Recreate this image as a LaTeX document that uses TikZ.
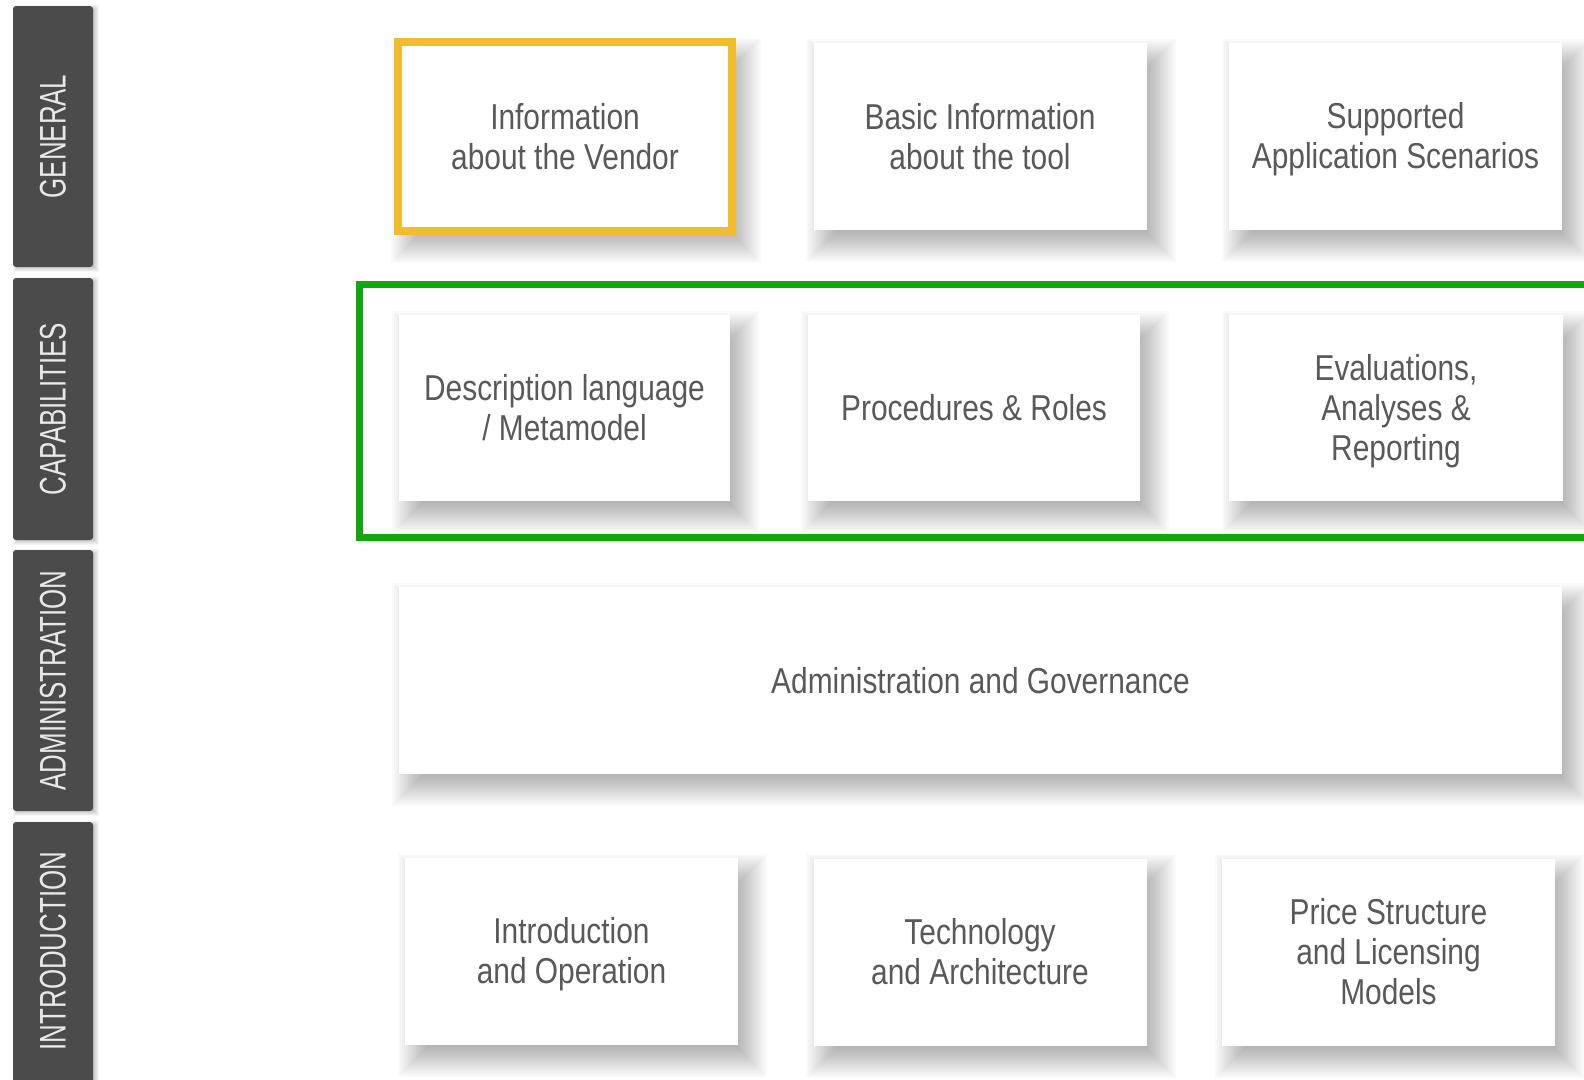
\documentclass[tikz,border=0pt]{standalone}
\usepackage{fontspec}
\newfontfamily\mainf[FakeStretch=0.83]{Liberation Sans}
\newfontfamily\tabf[FakeStretch=0.70]{Liberation Sans}
\definecolor{tabgray}{HTML}{4B4B4B}
\definecolor{txtgray}{HTML}{595959}
\definecolor{tabtxt}{HTML}{E8E8E8}
\definecolor{vyellow}{HTML}{F0BE2C}
\definecolor{cgreen}{HTML}{14A60E}
\pgfdeclarelayer{bgl}
\pgfdeclarelayer{shl}
\pgfsetlayers{bgl,shl,main}
\tikzset{
  card/.style={fill=white, draw=none, inner sep=0pt, align=center, text=txtgray,
    font=\mainf\fontsize{36}{40}\selectfont,
    minimum width=333pt, minimum height=187pt},
  cardtext/.style={text=txtgray, align=center, font=\mainf\fontsize{36}{40}\selectfont, inner sep=0pt},
  tab/.style={fill=tabgray, draw=none, rounded corners=3pt, inner sep=0pt, minimum width=80pt},
  tablabel/.style={text=tabtxt, rotate=90, font=\tabf\fontsize{37}{40}\selectfont, inner sep=0pt}
}
% soft shadow: #1 node, #2 x offset, #3 y offset (down), #4 half spread, #5 step, #6 layer opacity
\newcommand\softshadow[6]{%
  \begin{pgfonlayer}{shl}
  \pgfmathtruncatemacro\sstart{-#4}\pgfmathtruncatemacro\snext{-#4+#5}%
  \foreach \s in {\sstart,\snext,...,#4}{%
    \pgfmathsetmacro\xa{#2-\s}\pgfmathsetmacro\ya{-#3+\s}%
    \pgfmathsetmacro\xb{#2+\s}\pgfmathsetmacro\yb{-#3-\s}%
    \fill[black, opacity=#6] ([xshift=\xa pt, yshift=\ya pt]#1.north west) rectangle ([xshift=\xb pt, yshift=\yb pt]#1.south east);
  }%
  \end{pgfonlayer}}
\begin{document}
\begin{tikzpicture}[x=1pt, y=-1pt]
\useasboundingbox (0,0) rectangle (1584,1079);
\begin{pgfonlayer}{bgl}
\fill[white] (0,0) rectangle (1584,1079);
\end{pgfonlayer}
% side tabs
\node[tab, minimum height=261pt] (tgen) at (53,136.5) {};
\node[tablabel] (lgen) at (tgen.center) {GENERAL};
\node[tab, minimum height=262pt] (tcap) at (53,409) {};
\node[tablabel] (lcap) at (tcap.center) {CAPABILITIES};
\node[tab, minimum height=261pt] (tadm) at (53,680.5) {};
\node[tablabel] (ladm) at (tadm.center) {ADMINISTRATION};
\node[tab, minimum height=270pt] (tint) at (53,957) {};
\node[tablabel] (lint) at (53,951) {INTRODUCTION};
\foreach \n in {tgen,tcap,tadm,tint}{\softshadow{\n}{3}{2}{3}{1}{0.04}}
% row 1
\node[card, minimum width=334pt, minimum height=189pt] (vendor) at (565,136.5) {Information\\about the Vendor};
\draw[vyellow, line width=8pt] (vendor.north west) rectangle (vendor.south east);
\node[card] (basic) at (980,136.5) {Basic Information\\about the tool};
\node[card] (scen) at (1395.5,136.5) {};
\node[cardtext] (scent) at (1395.5,139.5) {Supported\\Application Scenarios};
% row 2
\node[card, minimum width=331pt, minimum height=186pt] (desc) at (564.5,408) {Description language\\/ Metamodel};
\node[card, minimum width=332pt, minimum height=186pt] (proc) at (974,408) {Procedures \& Roles};
\node[card, minimum width=334pt, minimum height=186pt] (eval) at (1396,408) {};
\node[cardtext] (evalt) at (1396,411) {Evaluations,\\Analyses \&\\Reporting};
\coordinate (gtl) at (359,284);
\coordinate (gbr) at (1600,537);
\draw[cgreen, line width=7pt] (gtl) rectangle (gbr);
% row 3
\node[card, minimum width=1163pt] (admin) at (980.5,680.5) {Administration and Governance};
% row 4
\node[card] (intro) at (571.5,951.5) {};
\node[cardtext] (introt) at (571.5,954.5) {Introduction\\and Operation};
\node[card] (tech) at (980,952) {Technology\\and Architecture};
\node[card] (price) at (1388.5,952) {Price Structure\\and Licensing\\Models};
\foreach \n in {vendor,basic,scen,desc,proc,eval,admin,intro,tech,price}{\softshadow{\n}{11}{14}{18}{2}{0.021}}
\end{tikzpicture}
\end{document}
